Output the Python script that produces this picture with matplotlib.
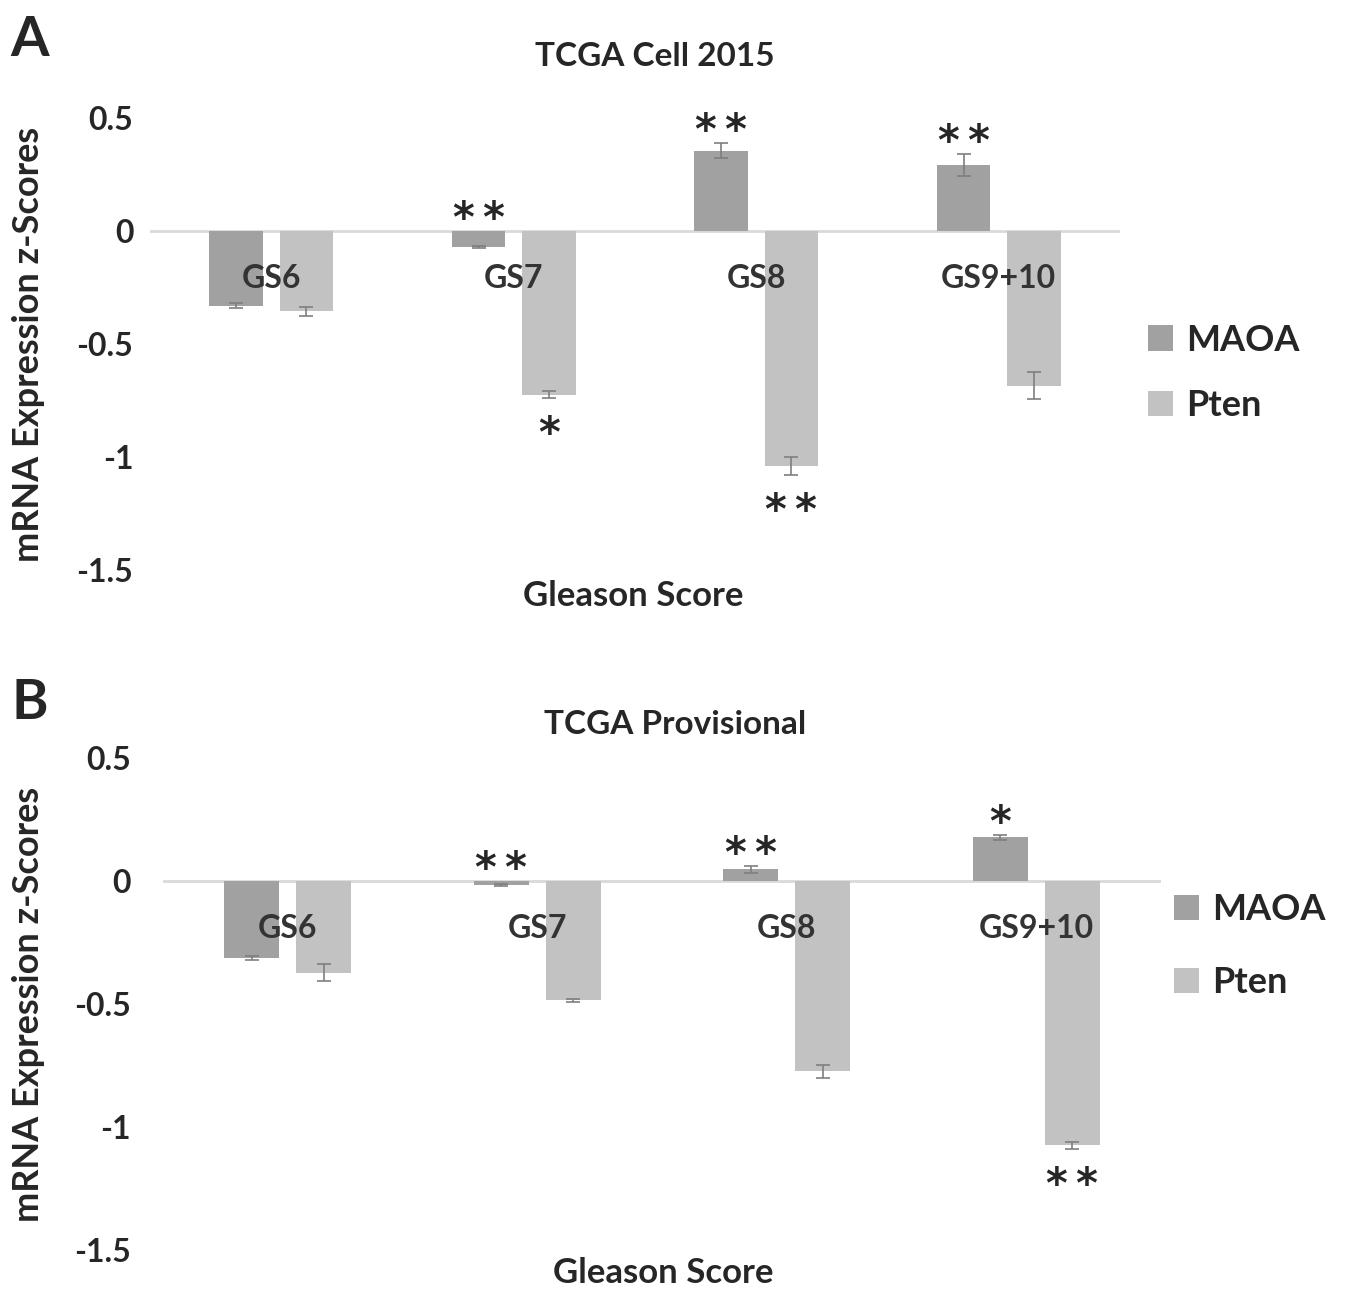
import numpy as np
import matplotlib
matplotlib.use('Agg')
import matplotlib.pyplot as plt

plt.rcParams['font.family'] = ['Lato', 'DejaVu Sans']
plt.rcParams['font.weight'] = 'bold'

# 데이터
categories = ['GS6', 'GS7', 'GS8', 'GS9+10']
series_names = ['MAOA', 'Pten']

cell_maoa = [-0.33, -0.07, 0.356, 0.293]
cell_maoa_err = [0.01, 0.005, 0.035, 0.048]
cell_pten = [-0.356, -0.725, -1.04, -0.684]
cell_pten_err = [0.02, 0.015, 0.04, 0.058]

prov_maoa = [-0.313, -0.016, 0.048, 0.177]
prov_maoa_err = [0.01, 0.004, 0.015, 0.01]
prov_pten = [-0.373, -0.485, -0.774, -1.074]
prov_pten_err = [0.035, 0.005, 0.025, 0.015]

# (category index, series index, text, above?)
cell_stars = [(1, 0, '**', True), (1, 1, '*', False), (2, 0, '**', True),
              (2, 1, '**', False), (3, 0, '**', True)]
prov_stars = [(1, 0, '**', True), (2, 0, '**', True), (3, 0, '*', True),
              (3, 1, '**', False)]

colors = ['#a1a1a1', '#c2c2c2']
text_color = '#262626'
W, H = 1347, 1290

fig = plt.figure(figsize=(W / 100, H / 100), dpi=100)


def draw_panel(rect, maoa, maoa_err, pten, pten_err, stars, tick_pad, ylab_x):
    ax = fig.add_axes(rect)
    x = np.arange(len(categories))
    width = 0.22
    offset = 0.145
    vals = [maoa, pten]
    errs = [maoa_err, pten_err]
    for s in range(2):
        ax.bar(x + (2 * s - 1) * offset, vals[s], width, color=colors[s],
               label=series_names[s], zorder=2)
        ax.errorbar(x + (2 * s - 1) * offset, vals[s], yerr=errs[s], fmt='none',
                    ecolor='#7f7f7f', elinewidth=1.2, capsize=5, capthick=1.2, zorder=3)
    ax.axhline(0, color='#d9d9d9', lw=2, zorder=1)
    ax.set_xlim(-0.5, len(categories) - 0.5)
    ax.set_ylim(-1.5, 0.5)
    ax.set_yticks([0.5, 0, -0.5, -1, -1.5])
    ax.set_yticklabels(['0.5', '0', '-0.5', '-1', '-1.5'])
    ax.tick_params(axis='y', length=0, pad=tick_pad, labelsize=23, labelcolor=text_color)
    ax.set_xticks([])
    for sp in ax.spines.values():
        sp.set_visible(False)

    # 카테고리 라벨 (막대 위에 겹쳐서)
    for i, c in enumerate(categories):
        ax.annotate(c, xy=(i, 0), xytext=(0, -34), textcoords='offset points',
                    ha='center', va='center', fontsize=23, color='#333333',
                    fontweight='bold', zorder=5)

    # 별표
    for ci, si, txt, above in stars:
        v = vals[si][ci]
        e = errs[si][ci]
        xc = ci + (2 * si - 1) * offset
        if above:
            y = max(v + e, 0)
            dy = -1
        else:
            y = min(v - e, 0)
            dy = -35
        ax.annotate('\u2009'.join(txt), xy=(xc, y), xytext=(0, dy), textcoords='offset points',
                    ha='center', va='baseline', fontsize=30, color=text_color,
                    family='DejaVu Sans')

    ax.set_ylabel('mRNA Expression z-Scores', fontsize=26, color=text_color, fontweight='bold')
    ax.yaxis.set_label_coords(ylab_x, 0.5)
    return ax


ax1 = draw_panel([150 / W, 1 - 570 / H, 970 / W, 452 / H],
                 cell_maoa, cell_maoa_err, cell_pten, cell_pten_err, cell_stars, 12, -0.108)
ax2 = draw_panel([163 / W, 1 - 1250 / H, 998 / W, 492 / H],
                 prov_maoa, prov_maoa_err, prov_pten, prov_pten_err, prov_stars, 23, -0.118)

fig.text(30 / W, 1 - 40 / H, 'A', fontsize=40, ha='center', va='center', color=text_color)
fig.text(30 / W, 1 - 703 / H, 'B', fontsize=40, ha='center', va='center', color=text_color)
fig.text(655 / W, 1 - 57 / H, 'TCGA Cell 2015', fontsize=24, ha='center', va='center', color=text_color)
fig.text(675 / W, 1 - 724 / H, 'TCGA Provisional', fontsize=24, ha='center', va='center', color=text_color)
fig.text(633 / W, 1 - 596 / H, 'Gleason Score', fontsize=25, ha='center', va='center', color=text_color)
fig.text(663 / W, 1 - 1273 / H, 'Gleason Score', fontsize=25, ha='center', va='center', color=text_color)

ax1.legend(loc='center left', bbox_to_anchor=(1148 / W, 1 - 373 / H), bbox_transform=fig.transFigure,
           frameon=False, fontsize=26, handlelength=0.7, handleheight=0.7, handletextpad=0.35,
           labelspacing=0.9, borderpad=0, borderaxespad=0, labelcolor=text_color)
ax2.legend(loc='center left', bbox_to_anchor=(1174 / W, 1 - 946 / H), bbox_transform=fig.transFigure,
           frameon=False, fontsize=26, handlelength=0.7, handleheight=0.7, handletextpad=0.35,
           labelspacing=1.1, borderpad=0, borderaxespad=0, labelcolor=text_color)

fig.savefig('out.png', dpi=100, facecolor='white')
